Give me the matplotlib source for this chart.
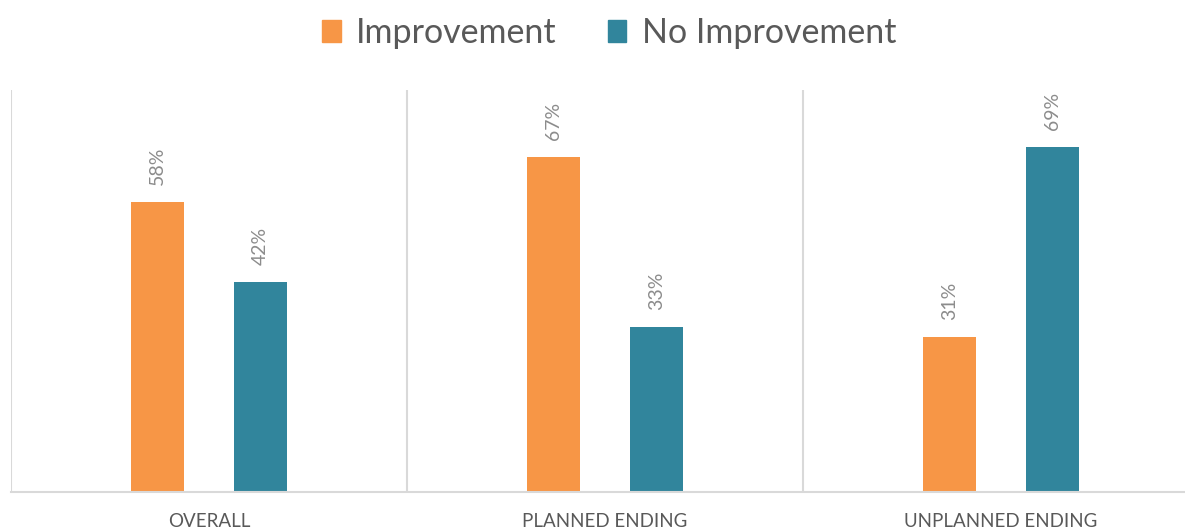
import matplotlib.pyplot as plt
from matplotlib.patches import Patch

# data
categories = ["OVERALL", "PLANNED ENDING", "UNPLANNED ENDING"]
series_names = ["Improvement", "No Improvement"]
improvement = [58, 67, 31]
no_improvement = [42, 33, 69]

ORANGE = "#F79646"
TEAL = "#31859C"
GRID = "#D9D9D9"
TEXT = "#595959"
LABEL = "#8C8C8C"

plt.rcParams['font.family'] = ['Lato', 'DejaVu Sans']

W, H = 1185, 529
fig = plt.figure(figsize=(W / 100, H / 100), dpi=100)
# plot area runs past the right edge of the picture, as in the reference
ax = fig.add_axes([11 / W, (H - 492) / H, 3 * 396 / W, (492 - 90) / H])

x = list(range(len(categories)))
off = 0.13
bw = 0.136
b1 = ax.bar([i - off for i in x], improvement, bw, color=ORANGE)
b2 = ax.bar([i + off for i in x], no_improvement, bw, color=TEAL)

for bars, vals in ((b1, improvement), (b2, no_improvement)):
    for rect, v in zip(bars, vals):
        ax.annotate(f"{v}%", (rect.get_x() + rect.get_width() / 2, v),
                    xytext=(0, 12), textcoords="offset points",
                    rotation=90, ha="center", va="bottom",
                    fontsize=14, color=LABEL)

for sep in (-0.5, 0.5, 1.5, 2.5):
    ax.axvline(sep, color=GRID, lw=1.5, zorder=0)

ax.set_xlim(-0.5, 2.5)
ax.set_ylim(0, 80.4)
ax.set_yticks([])
ax.set_xticks(x)
ax.set_xticklabels(categories, fontsize=13.5, color=TEXT)
ax.tick_params(axis="x", length=0, pad=15)
for s in ("top", "right", "left"):
    ax.spines[s].set_visible(False)
ax.spines["bottom"].set_color(GRID)
ax.spines["bottom"].set_linewidth(1.5)

handles = [Patch(color=ORANGE), Patch(color=TEAL)]
fig.legend(handles, series_names, loc="center", ncol=2,
           bbox_to_anchor=(609 / W, 1 - 33 / H), frameon=False,
           fontsize=24.5, labelcolor=TEXT, handlelength=0.55, handleheight=0.65,
           handletextpad=0.45, columnspacing=1.5)

fig.savefig("out.png", dpi=100)
